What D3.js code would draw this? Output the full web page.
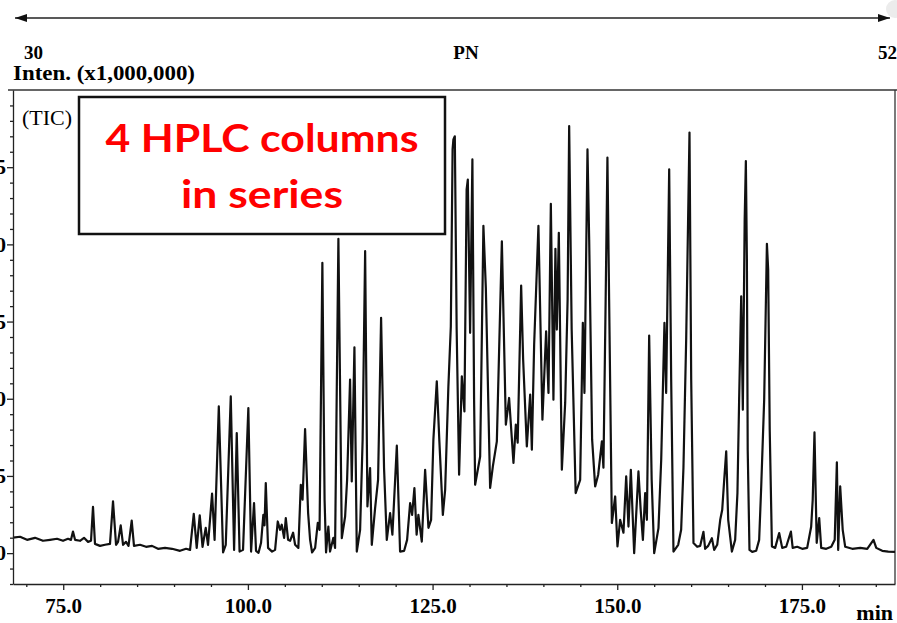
<!DOCTYPE html>
<html>
<head>
<meta charset="utf-8">
<script src="https://cdn.jsdelivr.net/npm/d3@7"></script>
<style>
  body { margin: 0; background: #fff; }
  svg { display: block; }
  .axis path, .axis line { stroke: #222; stroke-width: 1.3; }
  .axis text { font-family: 'Liberation Serif', 'Times New Roman', serif; font-weight: bold; font-size: 21px; fill: #000; }
  .trace { fill: none; stroke: #111; stroke-width: 2.2; stroke-linejoin: round; }
  .serif { font-family: 'Liberation Serif', 'Times New Roman', serif; fill: #000; }
</style>
</head>
<body>
<div id="chart"></div>
<script>
// TIC chromatogram (min, intensity x1,000,000)
const retentionTime = [
  68.2, 69.15, 70.1, 71.18, 72.26, 73.21, 74.16, 74.97, 75.65, 76.05, 76.32, 76.6, 77.27, 77.81, 78.36, 78.76,
  79.03, 79.3, 79.98, 80.66, 81.33, 81.74, 82.15, 82.42, 82.78, 83.1, 83.5, 83.84, 84.27, 84.58, 85.4, 86.21,
  87.02, 87.83, 88.78, 89.73, 90.81, 91.63, 92.17, 92.67, 93.07, 93.48, 93.86, 94.29, 94.6, 95.15, 95.49, 96.06,
  96.64, 97.0, 97.68, 98.13, 98.49, 98.87, 99.34, 100.06, 100.43, 100.83, 101.1, 101.44, 101.78, 102.09, 102.25, 102.42,
  102.73, 103.27, 103.68, 104.04, 104.35, 104.58, 104.9, 105.13, 105.44, 105.71, 106.12, 106.39, 106.83, 107.16, 107.4, 107.74,
  108.15, 108.42, 108.69, 109.1, 109.46, 109.7, 110.08, 110.38, 110.58, 110.89, 111.12, 111.57, 111.8, 112.25, 112.71, 113.16,
  113.43, 113.83, 114.06, 114.42, 114.74, 115.19, 115.53, 115.87, 116.18, 116.54, 116.77, 117.22, 117.62, 118.03, 118.43, 118.8,
  119.25, 119.56, 120.16, 120.6, 121.15, 121.55, 121.96, 122.23, 122.54, 122.84, 123.08, 123.54, 123.99, 124.44, 124.8, 125.11,
  125.57, 125.92, 126.39, 126.7, 127.14, 127.47, 127.71, 127.82, 128.01, 128.26, 128.59, 128.96, 129.31, 129.61, 129.77, 130.08,
  130.39, 130.62, 130.76, 131.44, 131.88, 132.21, 132.79, 133.16, 133.7, 134.01, 134.38, 134.92, 135.36, 135.95, 136.27, 136.52,
  136.99, 137.26, 137.76, 138.21, 138.44, 138.75, 139.33, 139.87, 140.37, 140.69, 141.01, 141.36, 141.63, 141.82, 142.09, 142.5,
  142.95, 143.28, 143.49, 143.83, 144.37, 144.98, 145.34, 145.56, 145.97, 146.2, 146.6, 147.01, 147.42, 147.92, 148.13, 148.43,
  148.67, 148.9, 149.27, 149.72, 150.03, 150.39, 150.84, 151.21, 151.52, 151.84, 152.29, 152.87, 153.17, 153.47, 153.78, 154.01,
  154.32, 154.66, 155.0, 155.58, 155.95, 156.39, 156.62, 157.03, 157.3, 157.61, 158.25, 158.65, 158.96, 159.33, 159.78, 160.01,
  160.32, 160.82, 161.23, 161.67, 161.9, 162.31, 162.81, 163.12, 163.53, 163.94, 164.21, 164.48, 164.75, 165.02, 165.52, 165.96,
  166.27, 166.5, 166.78, 167.0, 167.25, 167.41, 167.55, 167.66, 167.9, 168.27, 168.81, 169.21, 169.49, 169.89, 170.26, 170.43,
  170.64, 170.94, 171.38, 171.92, 172.33, 172.87, 173.51, 173.75, 174.36, 175.04, 175.71, 176.25, 176.46, 176.7, 177.0, 177.34,
  177.61, 178.29, 178.97, 179.44, 179.73, 179.91, 180.18, 180.52, 180.86, 181.81, 182.89, 183.84, 184.69, 185.06, 185.87, 186.69,
  187.6
]
const intensity = [
  0.10, 0.106, 0.086, 0.099, 0.08, 0.086, 0.093, 0.08, 0.093, 0.086, 0.14, 0.086, 0.08, 0.099, 0.073, 0.08,
  0.30, 0.06, 0.047, 0.054, 0.06, 0.335, 0.054, 0.073, 0.18, 0.054, 0.073, 0.047, 0.21, 0.047, 0.054, 0.041,
  0.047, 0.028, 0.034, 0.028, 0.015, 0.028, 0.021, 0.255, 0.034, 0.245, 0.041, 0.164, 0.054, 0.385, 0.086, 0.95,
  0.004, 0.054, 1.015, 0.021, 0.778, 0.01, 0.021, 0.94, 0.01, 0.324, 0.015, 0.002, 0.067, 0.248, 0.18, 0.454,
  0.034, 0.01, 0.021, 0.205, 0.151, 0.184, 0.099, 0.227, 0.086, 0.08, 0.132, 0.054, 0.034, 0.443, 0.346, 0.804,
  0.261, 0.086, 0.004, 0.034, 0.196, 0.151, 1.881, 0.346, 0.004, 0.172, 0.01, 0.099, 0.034, 2.036, 0.097, 0.237,
  0.475, 1.124, 0.464, 1.333, 0.01, 0.151, 0.735, 1.956, 0.302, 0.551, 0.054, 0.292, 0.475, 1.524, 0.551, 0.086,
  0.259, 0.119, 0.696, 0.01, 0.015, 0.086, 0.324, 0.248, 0.422, 0.119, 0.248, 0.075, 0.54, 0.164, 0.216, 0.735,
  1.113, 0.724, 0.248, 0.41, 1.08, 1.47, 2.615, 2.68, 2.70, 1.448, 0.508, 1.145, 0.918, 2.356, 2.42, 1.427,
  2.55, 0.994, 0.443, 0.626, 2.12, 1.718, 0.422, 0.562, 0.724, 1.318, 2.02, 0.832, 1.005, 0.584, 0.832, 0.715,
  1.733, 1.254, 0.691, 1.027, 0.67, 1.351, 2.12, 0.864, 1.437, 1.038, 2.263, 0.994, 1.971, 1.448, 2.075, 0.54,
  0.973, 1.643, 2.766, 1.448, 0.389, 0.475, 1.492, 1.038, 2.615, 2.03, 0.735, 0.432, 0.508, 0.724, 0.553, 1.643,
  2.562, 1.643, 0.195, 0.367, 0.043, 0.216, 0.132, 0.497, 0.172, 0.54, 0.0, 0.529, 0.281, 0.086, 0.389, 0.216,
  1.409, 0.475, 0.0, 0.162, 0.605, 1.492, 1.038, 2.486, 1.124, 0.01, 0.054, 0.151, 0.551, 1.383, 2.724, 1.124,
  0.065, 0.041, 0.047, 0.138, 0.028, 0.047, 0.097, 0.021, 0.054, 0.216, 0.281, 0.475, 0.659, 0.216, 0.01, 0.086,
  0.389, 0.994, 1.664, 0.929, 2.161, 2.54, 1.902, 0.67, 0.021, 0.008, 0.015, 0.086, 0.432, 0.994, 2.004, 1.837,
  0.8, 0.043, 0.034, 0.13, 0.034, 0.041, 0.14, 0.034, 0.041, 0.028, 0.034, 0.171, 0.346, 0.782, 0.067, 0.227,
  0.034, 0.028, 0.041, 0.086, 0.588, 0.021, 0.432, 0.151, 0.041, 0.028, 0.034, 0.028, 0.086, 0.034, 0.015, 0.01,
  0.008
]

// Axes ticks
const xMajorTicks = [75, 100, 125, 150, 175]
const xMinorTicks = [70, 80, 85, 90, 95, 105, 110, 115, 120, 130, 135, 140, 145, 155, 160, 165, 170, 180, 185]
const yMajorTicks = [0, 0.5, 1.0, 1.5, 2.0, 2.5]
const yMinorTicks = [-0.2, -0.1, 0.1, 0.2, 0.3, 0.4, 0.6, 0.7, 0.8, 0.9, 1.1, 1.2, 1.3, 1.4, 1.6, 1.7, 1.8, 1.9,
  2.1, 2.2, 2.3, 2.4, 2.6, 2.7, 2.8, 2.9]

// PN scale shown above the plot
const pnLabels = ['30', 'PN', '52']

let width = 897,
    height = 623

let svg = d3.select('#chart').append('svg')
    .attr('width', width)
    .attr('height', height)

let xScale = d3.scaleLinear().domain([68.2, 187.6]).range([13, 895]),
    yScale = d3.scaleLinear().domain([-0.2, 3.0]).range([584, 90])

// Frame (top and right edges)
svg.append('line')
  .attr('x1', 8).attr('y1', 90).attr('x2', 897).attr('y2', 90)
  .attr('stroke', '#333').attr('stroke-width', 1.3)
svg.append('line')
  .attr('x1', 895).attr('y1', 90).attr('x2', 895).attr('y2', 584)
  .attr('stroke', '#333').attr('stroke-width', 1.3)

// Trace
let points = retentionTime.map((t, i) => [t, intensity[i]])
let line = d3.line()
    .x(d => xScale(d[0]))
    .y(d => yScale(d[1]))

svg.append('path')
  .datum(points)
  .attr('class', 'trace')
  .attr('d', line)

// X axis
svg.append('g')
  .attr('class', 'axis axis-x')
  .attr('transform', 'translate(0,584)')
  .call(d3.axisBottom(xScale).tickValues(xMajorTicks).tickSize(6).tickSizeOuter(0)
    .tickFormat(d3.format('.1f')))
  .call(g => g.selectAll('text').attr('dy', '0.95em'))

svg.append('g')
  .attr('class', 'axis axis-x-minor')
  .attr('transform', 'translate(0,584)')
  .call(d3.axisBottom(xScale).tickValues(xMinorTicks).tickSize(3).tickFormat(''))
  .call(g => g.select('.domain').remove())

// Y axis (labels run off the left edge, as in the original)
svg.append('g')
  .attr('class', 'axis axis-y')
  .attr('transform', 'translate(13,0)')
  .call(d3.axisLeft(yScale).tickValues(yMajorTicks).tickSize(6).tickSizeOuter(0)
    .tickPadding(1).tickFormat(d3.format('.1f')))

svg.append('g')
  .attr('class', 'axis axis-y-minor')
  .attr('transform', 'translate(13,0)')
  .call(d3.axisLeft(yScale).tickValues(yMinorTicks).tickSize(3).tickFormat(''))
  .call(g => g.select('.domain').remove())

svg.append('text')
  .attr('class', 'serif')
  .attr('x', 893).attr('y', 620)
  .attr('text-anchor', 'end')
  .style('font-size', '22px').style('font-weight', 'bold')
  .text('min')

// Top labels
svg.append('text')
  .attr('class', 'serif')
  .attr('x', 13).attr('y', 80)
  .attr('textLength', 182).attr('lengthAdjust', 'spacingAndGlyphs')
  .style('font-size', '21px').style('font-weight', 'bold')
  .text('Inten. (x1,000,000)')

svg.append('text')
  .attr('class', 'serif')
  .attr('x', 22).attr('y', 125)
  .style('font-size', '22px')
  .text('(TIC)')

let pnPos = [[24, 'start'], [466, 'middle'], [897, 'end']]
svg.selectAll('.pn-label')
  .data(pnLabels)
  .enter().append('text')
  .attr('class', 'serif pn-label')
  .attr('x', (d, i) => pnPos[i][0])
  .attr('y', 59)
  .attr('text-anchor', (d, i) => pnPos[i][1])
  .style('font-size', '19px').style('font-weight', 'bold')
  .text(d => d)

// Double arrow
let defs = svg.append('defs')
defs.append('marker')
  .attr('id', 'head')
  .attr('viewBox', '0 0 12 8')
  .attr('refX', 12).attr('refY', 4)
  .attr('markerWidth', 12).attr('markerHeight', 8)
  .attr('markerUnits', 'userSpaceOnUse')
  .attr('orient', 'auto-start-reverse')
  .append('path')
  .attr('d', 'M0,0L12,4L0,8Z')
  .attr('fill', '#111')

svg.append('line')
  .attr('x1', 15).attr('y1', 18).attr('x2', 890).attr('y2', 18)
  .attr('stroke', '#222').attr('stroke-width', 1.6)
  .attr('marker-start', 'url(#head)')
  .attr('marker-end', 'url(#head)')

svg.append('circle')
  .attr('cx', 895).attr('cy', 9).attr('r', 9)
  .attr('fill', '#ececec')

// Annotation box
let box = svg.append('g').attr('class', 'note')
box.append('rect')
  .attr('x', 79).attr('y', 97)
  .attr('width', 366).attr('height', 137)
  .attr('fill', '#fff')
  .attr('stroke', '#111').attr('stroke-width', 2.5)

box.append('text')
  .attr('x', 262).attr('y', 152)
  .attr('text-anchor', 'middle')
  .attr('textLength', 313).attr('lengthAdjust', 'spacingAndGlyphs')
  .style('font-family', 'Lato, "Open Sans", sans-serif')
  .style('font-weight', 'bold').style('font-size', '39px')
  .attr('fill', '#ff0000')
  .text('4 HPLC columns')

box.append('text')
  .attr('x', 262).attr('y', 208)
  .attr('text-anchor', 'middle')
  .attr('textLength', 162).attr('lengthAdjust', 'spacingAndGlyphs')
  .style('font-family', 'Lato, "Open Sans", sans-serif')
  .style('font-weight', 'bold').style('font-size', '39px')
  .attr('fill', '#ff0000')
  .text('in series')
</script>
</body>
</html>
